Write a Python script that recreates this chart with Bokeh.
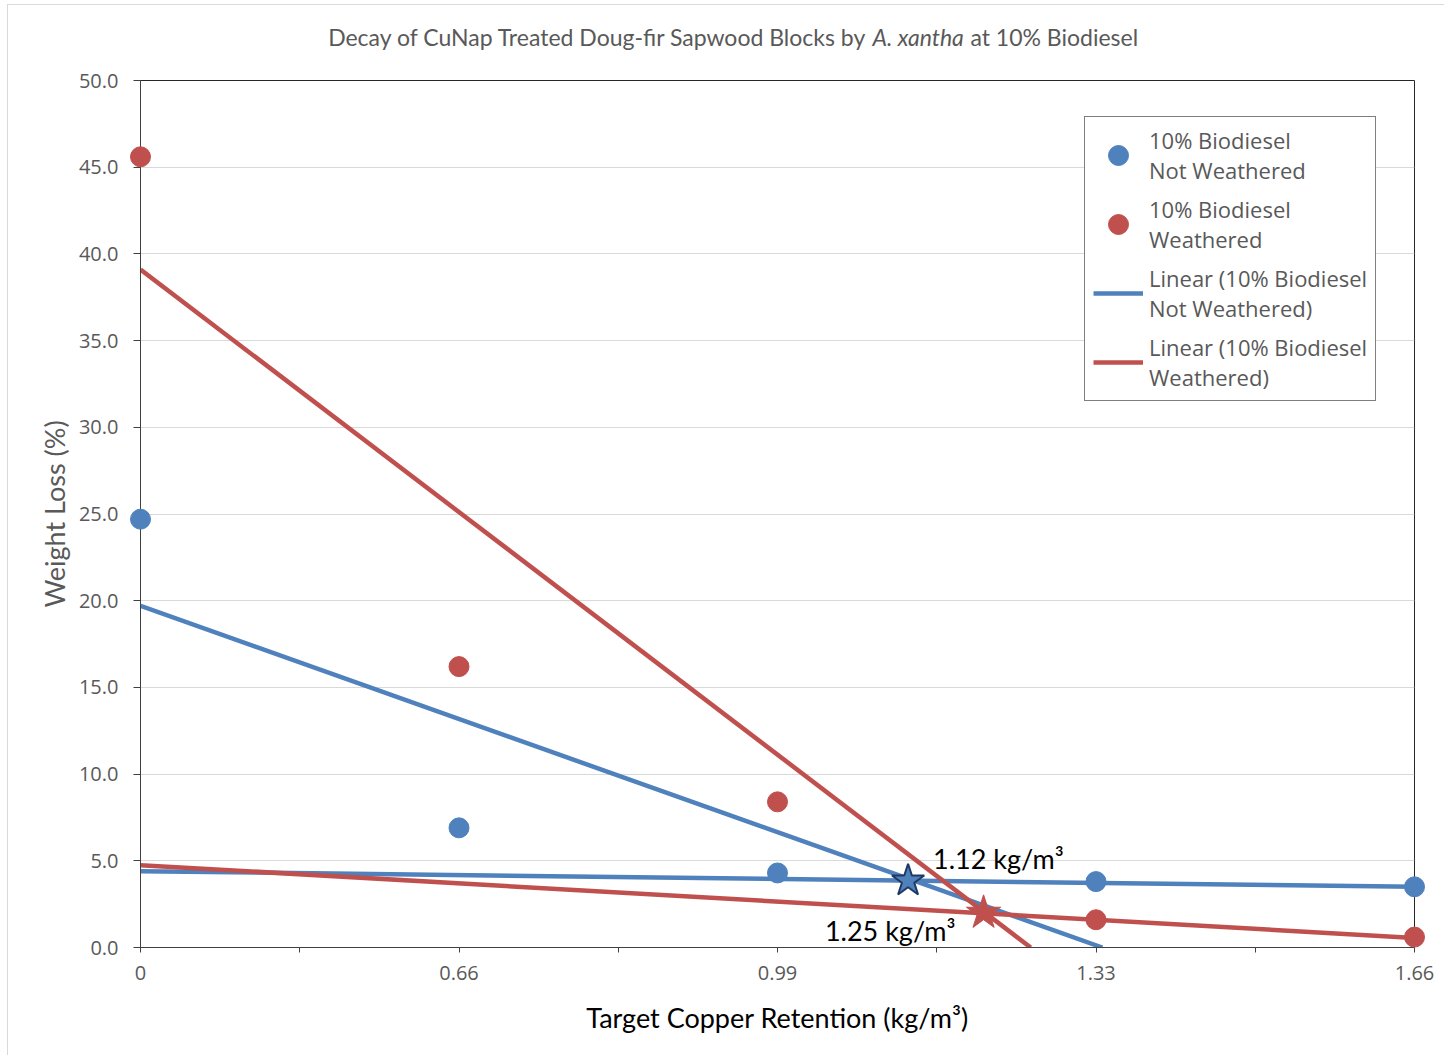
from bokeh.plotting import figure
from bokeh.models import (Range1d, FixedTicker, NumeralTickFormatter, Legend,
                          LegendItem, Label)
from bokeh.core.properties import value
from bokeh.embed import file_html
from bokeh.resources import INLINE

# ---------------- data ----------------
categories = ["0", "0.66", "0.99", "1.33", "1.66"]       # target copper retention (kg/m3)
cat_index = [0, 1, 2, 3, 4]
not_weathered = [24.7, 6.9, 4.3, 3.8, 3.5]               # weight loss (%)
weathered = [45.6, 16.2, 8.4, 1.6, 0.6]

# linear trendline end points (category index, weight loss)
trend_nw_steep_x = [0, 3.02]
trend_nw_steep_y = [19.7, 0.0]
trend_nw_flat_x = [0, 4]
trend_nw_flat_y = [4.4, 3.5]
trend_w_steep_x = [0, 2.795]
trend_w_steep_y = [39.1, 0.0]
trend_w_flat_x = [0, 4]
trend_w_flat_y = [4.75, 0.55]

# threshold stars (intersections)
star_nw_x, star_nw_y = [2.41], [3.85]
star_w_x, star_w_y = [2.647], [2.0]
star_labels = ["1.12 kg/m³", "1.25 kg/m³"]

y_ticks = [0, 5, 10, 15, 20, 25, 30, 35, 40, 45, 50]

title_parts = ["Decay of CuNap Treated Doug-fir Sapwood Blocks by", "A. xantha",
               "at 10% Biodiesel"]

BLUE = "#4F81BD"
RED = "#C0504D"
GRAY_TXT = "#595959"

p = figure(width=1436, height=1050, output_backend="svg", toolbar_location=None,
           x_range=Range1d(0, 4), y_range=Range1d(0, 50),
           min_border_left=132, min_border_right=30, min_border_top=75,
           min_border_bottom=108, margin=(5, 0, 0, 8),
           styles={"outline": "1px solid #d9d9d9"})
p.title.visible = False
p.outline_line_color = "#262626"
p.outline_line_width = 1
p.background_fill_color = "white"
p.border_fill_color = "white"

# axes
p.xaxis.ticker = FixedTicker(ticks=cat_index, minor_ticks=[0.5, 1.5, 2.5, 3.5])
p.xaxis.major_label_overrides = {i: c for i, c in zip(cat_index, categories)}
p.yaxis.ticker = FixedTicker(ticks=y_ticks)
p.yaxis.formatter = NumeralTickFormatter(format="0.0")
for ax in (p.xaxis, p.yaxis):
    ax.axis_line_color = "#404040"
    ax.major_tick_line_color = "#404040"
    ax.minor_tick_line_color = "#404040"
    ax.major_tick_in = 0
    ax.minor_tick_in = 0
    ax.major_label_text_font = "Open Sans"
    ax.major_label_text_font_size = "20px"
    ax.major_label_text_color = GRAY_TXT
    ax.axis_label_text_font = "Lato"
    ax.axis_label_text_font_style = "normal"
    ax.axis_label_text_font_size = "27px"
p.xaxis.major_tick_out = 5
p.xaxis.minor_tick_out = 5
p.yaxis.major_tick_out = 7
p.yaxis.minor_tick_out = 0
p.xaxis.major_label_standoff = 13
p.yaxis.major_label_standoff = 15
p.xaxis.axis_label = "Target Copper Retention (kg/m³)"
p.xaxis.axis_label_text_color = "black"
p.xaxis.axis_label_standoff = 18
p.yaxis.axis_label = "Weight Loss (%)"
p.yaxis.axis_label_text_color = GRAY_TXT
p.yaxis.axis_label_standoff = 5

p.xgrid.visible = False
p.ygrid.grid_line_color = "#d9d9d9"
p.ygrid.grid_line_width = 1

# trendlines
LW = 4.5
l_nw1 = p.line(trend_nw_steep_x, trend_nw_steep_y, line_color=BLUE, line_width=LW)
l_nw2 = p.line(trend_nw_flat_x, trend_nw_flat_y, line_color=BLUE, line_width=LW)
l_w1 = p.line(trend_w_steep_x, trend_w_steep_y, line_color=RED, line_width=LW)
l_w2 = p.line(trend_w_flat_x, trend_w_flat_y, line_color=RED, line_width=LW)

# data points
r_nw = p.scatter(cat_index, not_weathered, size=20, fill_color=BLUE, line_color=BLUE,
                 level="overlay")
r_w = p.scatter(cat_index, weathered, size=20, fill_color=RED, line_color=RED,
                level="overlay")

# stars
p.scatter(star_nw_x, star_nw_y, marker="star", size=34, fill_color=BLUE,
          line_color="#1F3864", line_width=2, level="overlay")
p.scatter(star_w_x, star_w_y, marker="star", size=36, fill_color=RED,
          line_color=RED, line_width=1, level="overlay")

p.add_layout(Label(x=star_nw_x[0], y=star_nw_y[0], text=star_labels[0], x_offset=25,
                   y_offset=22, text_font="Lato", text_font_size="27px",
                   text_color="black", text_baseline="middle", text_align="left"))
p.add_layout(Label(x=star_w_x[0], y=star_w_y[0], text=star_labels[1], x_offset=-28,
                   y_offset=-18, text_font="Lato", text_font_size="27px",
                   text_color="black", text_baseline="middle", text_align="right"))

# title (mixed italic) as unclipped text glyphs above the frame
title_y = 52.48
title_x = 2.298  # start of the italic part (category-index units)
tkw = dict(text_font=value("Lato"), text_font_size="23px", text_color=GRAY_TXT,
           text_baseline="middle", level="overlay")
p.text(x=[title_x], y=[title_y], text=[title_parts[0]], text_align="right",
       x_offset=-5, **tkw)
p.text(x=[title_x], y=[title_y], text=[title_parts[1]], text_align="left",
       text_font_style="italic", **tkw)
p.text(x=[title_x], y=[title_y], text=[title_parts[2]], text_align="left",
       x_offset=98, **tkw)

legend = Legend(items=[
    LegendItem(label="10% Biodiesel\nNot Weathered", renderers=[r_nw]),
    LegendItem(label="10% Biodiesel\nWeathered", renderers=[r_w]),
    LegendItem(label="Linear (10% Biodiesel\nNot Weathered)", renderers=[l_nw1]),
    LegendItem(label="Linear (10% Biodiesel\nWeathered)", renderers=[l_w1]),
], location=(944, 546))
legend.margin = 0
legend.padding = 8
legend.spacing = 9
legend.glyph_width = 50
legend.glyph_height = 50
legend.label_standoff = 6
legend.label_text_font = "Open Sans"
legend.label_text_font_size = "22px"
legend.label_text_line_height = 1.3
legend.label_text_color = GRAY_TXT
legend.border_line_color = "black"
legend.border_line_width = 1
legend.background_fill_alpha = 1
p.add_layout(legend, "center")

open("out.html", "w").write(file_html(p, INLINE))
